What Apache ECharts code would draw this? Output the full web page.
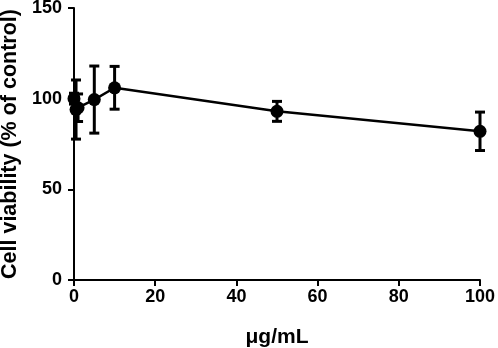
<!DOCTYPE html>
<html>
<head>
<meta charset="utf-8">
<title>Cell viability</title>
<script src="https://cdn.jsdelivr.net/npm/echarts@6/dist/echarts.min.js"></script>
<style>
  html, body { margin: 0; padding: 0; background: #fff; }
  #chart { width: 498px; height: 348px; }
</style>
</head>
<body>
<div id="chart"></div>
<script>
// concentrations (ug/mL), mean viability and error (SD)
var doses = [0, 0.5, 1, 5, 10, 50, 100];
var viability = [100, 94, 95, 99.5, 106, 93, 82];
var errors = [3, 16.3, 7.6, 18.5, 11.8, 5.5, 10.6];
var yTicks = [0, 50, 100, 150];

var lineData = [];
var errData = [];
for (var i = 0; i < doses.length; i++) {
  lineData.push([doses[i], viability[i]]);
  errData.push([doses[i], viability[i], errors[i]]);
}

var fontFam = '"Liberation Sans", Arial, sans-serif';
var myChart = echarts.init(document.getElementById('chart'));

function renderErr(params, api) {
  var x = api.value(0), m = api.value(1), e = api.value(2);
  var top = api.coord([x, m + e]);
  var bot = api.coord([x, m - e]);
  var hw = 5;
  var st = { stroke: '#000', lineWidth: 3 };
  return {
    type: 'group',
    children: [
      { type: 'line', shape: { x1: top[0], y1: top[1], x2: bot[0], y2: bot[1] }, style: st },
      { type: 'line', shape: { x1: top[0] - hw, y1: top[1], x2: top[0] + hw, y2: top[1] }, style: st },
      { type: 'line', shape: { x1: bot[0] - hw, y1: bot[1], x2: bot[0] + hw, y2: bot[1] }, style: st }
    ]
  };
}

var option = {
  animation: false,
  backgroundColor: '#fff',
  grid: { left: 74, right: 18, top: 8, bottom: 68, containLabel: false, outerBoundsMode: 'none' },
  xAxis: {
    type: 'value', min: 0, max: 100, interval: 20,
    name: 'μg/mL', nameLocation: 'middle', nameGap: 47,
    nameTextStyle: { color: '#000', fontSize: 21, fontWeight: 'bold', fontFamily: fontFam },
    axisLine: { lineStyle: { color: '#000', width: 2 } },
    axisTick: { length: 6, lineStyle: { color: '#000', width: 2 } },
    axisLabel: { color: '#000', fontSize: 18, fontWeight: 'bold', fontFamily: fontFam, margin: 8 },
    splitLine: { show: false }
  },
  yAxis: {
    type: 'value', min: yTicks[0], max: yTicks[yTicks.length - 1], interval: 50,
    name: 'Cell viability (% of control)', nameLocation: 'middle', nameGap: 43,
    nameTextStyle: { color: '#000', fontSize: 21.5, fontWeight: 'bold', fontFamily: fontFam },
    axisLine: { show: true, lineStyle: { color: '#000', width: 2 } },
    axisTick: { show: true, length: 6, lineStyle: { color: '#000', width: 2 } },
    axisLabel: { color: '#000', fontSize: 18, fontWeight: 'bold', fontFamily: fontFam, margin: 12 },
    splitLine: { show: false }
  },
  series: [
    {
      type: 'custom',
      renderItem: renderErr,
      data: errData,
      clip: false,
      z: 3
    },
    {
      type: 'line',
      data: lineData,
      symbol: 'circle',
      symbolSize: 13,
      itemStyle: { color: '#000' },
      lineStyle: { color: '#000', width: 2.5 },
      clip: false,
      z: 4
    }
  ]
};
myChart.setOption(option);
</script>
</body>
</html>
